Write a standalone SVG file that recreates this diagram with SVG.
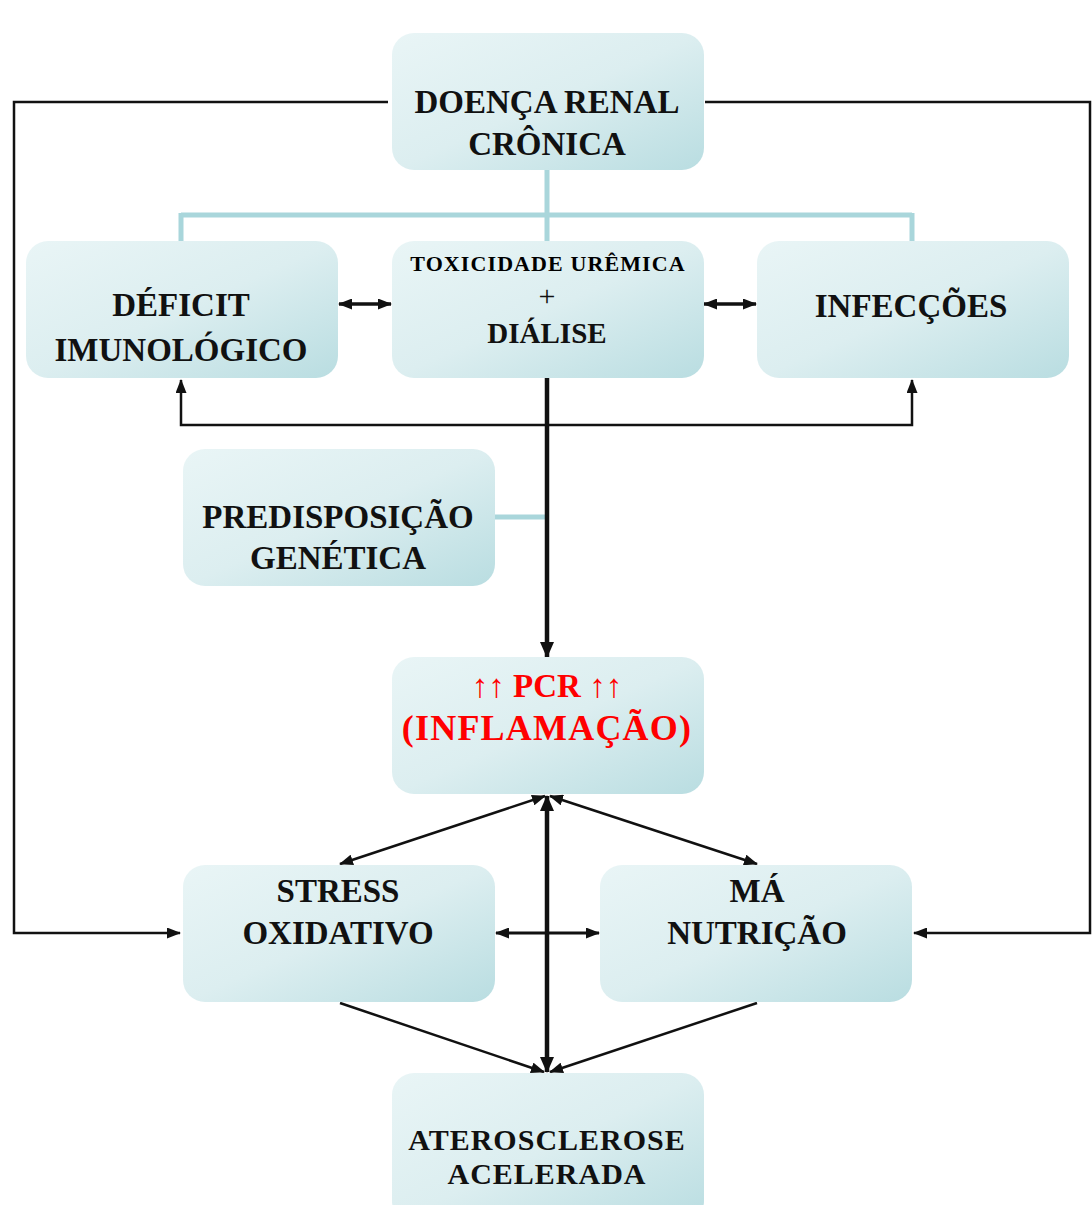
<svg xmlns="http://www.w3.org/2000/svg" width="1092" height="1205" viewBox="0 0 1092 1205">
<style>
.box{fill:url(#g);}
.t{font-family:"Liberation Serif","Times New Roman",serif;font-weight:bold;font-size:33px;fill:#111;text-anchor:middle;}
.r{fill:#ff0000;}
.ln{fill:none;stroke:#111;stroke-width:2.5;}
.th{fill:none;stroke:#111;stroke-width:4.5;}
.tl{fill:none;stroke:#a9d6db;stroke-width:5;}
</style>
<defs>
<linearGradient id="g" x1="0" y1="0" x2="1" y2="1">
<stop offset="0" stop-color="#e9f5f6"/>
<stop offset="0.5" stop-color="#dceef0"/>
<stop offset="1" stop-color="#b9dde1"/>
</linearGradient>
<marker id="a" viewBox="0 0 14 11" refX="13" refY="5.5" markerWidth="14" markerHeight="11" markerUnits="userSpaceOnUse" orient="auto-start-reverse">
<path d="M0,0 L14,5.5 L0,11 Z" fill="#111"/>
</marker>
<marker id="b" viewBox="0 0 16 14" refX="15" refY="7" markerWidth="16" markerHeight="14" markerUnits="userSpaceOnUse" orient="auto-start-reverse">
<path d="M0,0 L16,7 L0,14 Z" fill="#111"/>
</marker>
</defs>
<rect width="1092" height="1205" fill="#ffffff"/>
<g id="connectors">
<path class="tl" d="M547,170 V215 M181,215 H912 M181,213 V241 M547,213 V241 M912,213 V241"/>
<path class="tl" d="M494,517 H545"/>
<path class="ln" d="M388,102 H14 V933 H180" marker-end="url(#a)"/>
<path class="ln" d="M705,102 H1090 V933 H914" marker-end="url(#a)"/>
<path class="ln" d="M181,380 V425 H912 V380" marker-start="url(#a)" marker-end="url(#a)"/>
<path class="th" style="stroke-width:3.5" d="M339,304 H391" marker-start="url(#a)" marker-end="url(#a)"/>
<path class="th" style="stroke-width:3.5" d="M704,304 H756" marker-start="url(#a)" marker-end="url(#a)"/>
<path class="th" d="M547,372 V657" marker-end="url(#b)"/>
<path class="th" d="M547,796 V1072" marker-start="url(#b)" marker-end="url(#b)"/>
<path class="ln" d="M545,796 L340,864" marker-start="url(#a)" marker-end="url(#a)"/>
<path class="ln" d="M550,796 L757,864" marker-start="url(#a)" marker-end="url(#a)"/>
<path class="ln" style="stroke-width:3" d="M496,933 H599" marker-start="url(#a)" marker-end="url(#a)"/>
<path class="ln" d="M340,1003 L544,1072" marker-end="url(#a)"/>
<path class="ln" d="M757,1003 L550,1072" marker-end="url(#a)"/>
</g>
<g id="doenca">
<rect class="box" x="392" y="33" width="312" height="137" rx="22"/>
<text class="t" x="547" y="113">DOENÇA RENAL</text>
<text class="t" x="547" y="155">CRÔNICA</text>
</g>
<g id="deficit">
<rect class="box" x="26" y="241" width="312" height="137" rx="22"/>
<text class="t" x="181" y="316">DÉFICIT</text>
<text class="t" x="181" y="361">IMUNOLÓGICO</text>
</g>
<g id="toxicidade">
<rect class="box" x="392" y="241" width="312" height="137" rx="22"/>
<text class="t" x="548" y="271" style="font-size:22px;letter-spacing:1.1px;font-weight:900;fill:#000">TOXICIDADE URÊMICA</text>
<text class="t" x="547" y="306" style="font-size:30px;font-weight:normal">+</text>
<text class="t" x="547" y="343" style="font-size:29px">DIÁLISE</text>
</g>
<g id="infeccoes">
<rect class="box" x="757" y="241" width="312" height="137" rx="22"/>
<text class="t" x="911" y="317">INFECÇÕES</text>
</g>
<g id="predisposicao">
<rect class="box" x="183" y="449" width="312" height="137" rx="22"/>
<text class="t" x="338" y="528">PREDISPOSIÇÃO</text>
<text class="t" x="338" y="569">GENÉTICA</text>
</g>
<g id="pcr">
<rect class="box" x="392" y="657" width="312" height="137" rx="22"/>
<text class="t r" x="547" y="697"><tspan style="font-weight:normal">↑↑</tspan> PCR <tspan style="font-weight:normal">↑↑</tspan></text>
<text class="t r" x="547" y="740" style="font-size:36px;letter-spacing:1.2px">(INFLAMAÇÃO)</text>
</g>
<g id="stress">
<rect class="box" x="183" y="865" width="312" height="137" rx="22"/>
<text class="t" x="338" y="902">STRESS</text>
<text class="t" x="338" y="944">OXIDATIVO</text>
</g>
<g id="nutricao">
<rect class="box" x="600" y="865" width="312" height="137" rx="22"/>
<text class="t" x="757" y="902">MÁ</text>
<text class="t" x="757" y="944">NUTRIÇÃO</text>
</g>
<g id="aterosclerose">
<rect class="box" x="392" y="1073" width="312" height="150" rx="22"/>
<text class="t" x="547" y="1150" style="font-size:30px;letter-spacing:1px">ATEROSCLEROSE</text>
<text class="t" x="547" y="1184" style="font-size:30px;letter-spacing:1px">ACELERADA</text>
</g>
</svg>
